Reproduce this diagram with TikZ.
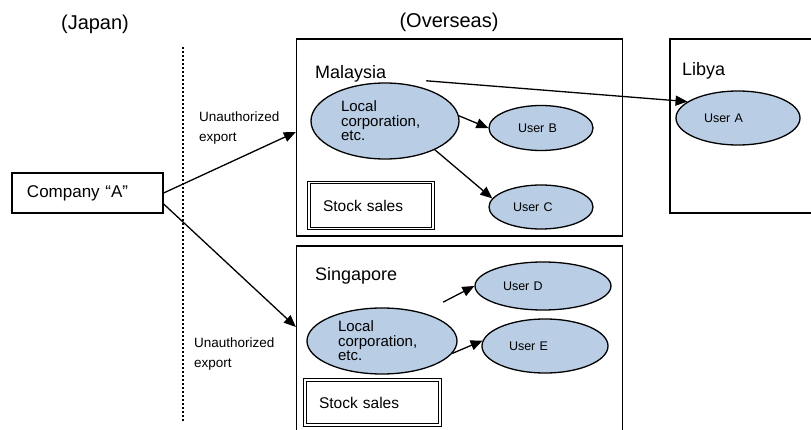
\documentclass[tikz,border=0pt]{standalone}
\usepackage{fontspec}
\setmainfont{Liberation Sans}
\usetikzlibrary{shapes.geometric,arrows.meta}
\definecolor{corpblue}{RGB}{185,205,229}
\tikzset{
  region/.style={draw, line width=1.3pt, inner sep=0pt},
  title/.style={anchor=north west, inner sep=0pt, font=\fontsize{18}{20}\selectfont},
  corp/.style={ellipse, draw, line width=1.3pt, fill=corpblue, inner sep=1pt, align=left},
  usertxt/.style={corp, font=\fontsize{12.5}{14}\selectfont},
  localtxt/.style={corp, text width=88pt, font=\fontsize{15}{14.5}\selectfont},
  stockbox/.style={draw, double, line width=1.1pt, double distance=1.6pt, inner xsep=14pt, align=left, font=\fontsize{15.5}{17}\selectfont},
  note/.style={anchor=north west, inner sep=0pt, align=left, font=\fontsize{13.5}{20}\selectfont},
  flow/.style={line width=1.3pt, -{Triangle[length=12pt,width=10pt]}}
}
\begin{document}
\begin{tikzpicture}[x=1pt,y=-1pt]
\useasboundingbox (0,0) rectangle (811,430);
\clip (0,0) rectangle (811,430);

\node[font=\fontsize{20}{24}\selectfont] (japan) at (95,24) {(Japan)};
\node[font=\fontsize{20}{24}\selectfont] (overseas) at (449,22) {(Overseas)};

\draw[line width=2pt, dash pattern=on 2pt off 2pt] (183,47) -- (183,422);

\node[draw, line width=1.3pt, inner xsep=15pt, text width=121pt, minimum height=40pt, align=left,
  font=\fontsize{17}{19}\selectfont] (company) at (87.5,193) {Company “A”};

\node[region, minimum width=326pt, minimum height=197pt] (malaysia) at (459.5,137.5) {};
\node[region, minimum width=326pt, minimum height=199pt] (singapore) at (459.5,345.5) {};
\node[region, minimum width=160pt, minimum height=174pt] (libya) at (750,126) {};

\node[title] (malaysiatitle) at (315,65) {Malaysia};
\node[title] (singaporetitle) at (315,267) {Singapore};
\node[title] (libyatitle) at (682,62) {Libya};

\node[localtxt, minimum width=148pt, minimum height=76pt] (mlocal) at (385,121) {Local\\corporation,\\etc.};
\node[usertxt, text width=46pt, minimum width=104pt, minimum height=45pt] (userb) at (541,128) {User B};
\node[usertxt, text width=56pt, minimum width=104pt, minimum height=44pt] (userc) at (541,207) {User C};
\node[usertxt, text width=68pt, minimum width=124pt, minimum height=54pt] (usera) at (738,118) {User A};
\node[stockbox, text width=96pt, minimum height=46pt] (mstock) at (371,205.5) {Stock sales};

\node[localtxt, minimum width=150pt, minimum height=66pt] (slocal) at (382,341) {Local\\corporation,\\etc.};
\node[usertxt, text width=80pt, minimum width=136pt, minimum height=48pt] (userd) at (543,286) {User D};
\node[usertxt, text width=72pt, minimum width=126pt, minimum height=54pt] (usere) at (545,346) {User E};
\node[stockbox, text width=107pt, minimum height=45pt] (sstock) at (372.5,402.5) {Stock sales};

\node[note] (exportup) at (199,112) {Unauthorized\\export};
\node[note] (exportdown) at (194,338) {Unauthorized\\export};

\draw[flow] (company.east) -- ([yshift=5.5pt]malaysia.west);
\draw[flow] ([yshift=-11pt]company.east) -- ([yshift=18.5pt]singapore.west);

\draw[flow] ([yshift=8pt]mlocal.38) -- (usera.162);
\draw[flow] (mlocal.4) -- (userb.west);
\draw[flow] (mlocal.-30) -- (userc.170);
\draw[flow] ([yshift=19pt]slocal.18) -- (userd.west);
\draw[flow] (slocal.-10) -- (usere.175);
\end{tikzpicture}
\end{document}
